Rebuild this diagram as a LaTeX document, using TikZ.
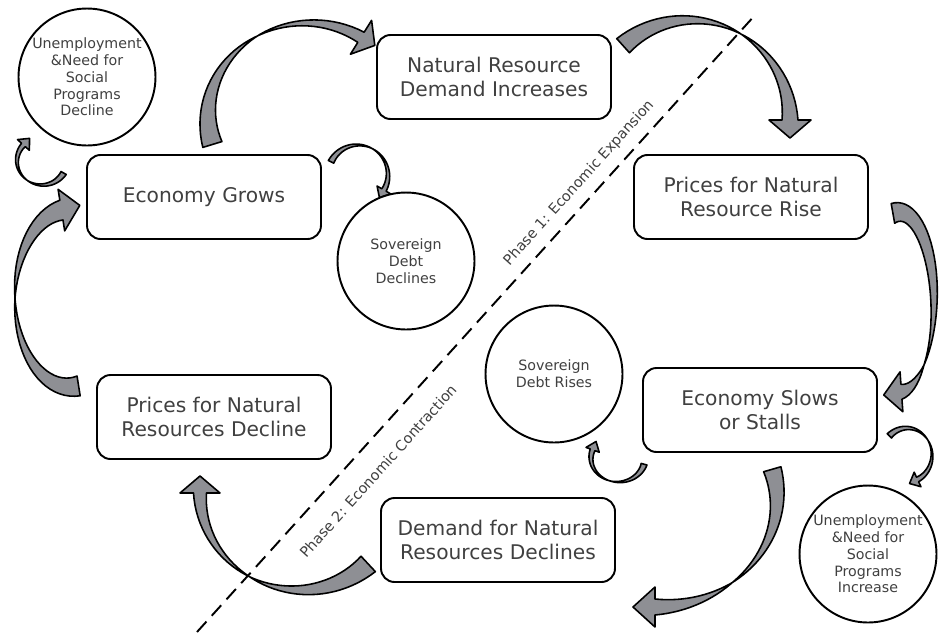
\documentclass[tikz,border=0pt]{standalone}
\usepackage{fontspec}
\setmainfont{DejaVu Sans}

\definecolor{arrowgray}{RGB}{142,143,148}
\definecolor{textgray}{RGB}{64,64,64}

\tikzset{
	box/.style={draw, line width=1.1pt, rounded corners=0.27cm, fill=white,
		minimum width=4.68cm, minimum height=1.68cm, align=center,
		text=textgray, font=\fontsize{11.5}{13.8}\selectfont},
	bubble/.style={draw, circle, line width=1.1pt, fill=white, minimum size=2.74cm,
		inner sep=0pt, align=center, text=textgray, font=\fontsize{8.1}{9.5}\selectfont},
	arrowband/.style={fill=arrowgray, draw=black, line width=0.9pt, line join=round},
	phase/.style={rotate=48, text=textgray, font=\fontsize{8.2}{10}\selectfont}
}

\begin{document}
\begin{tikzpicture}[x=0.02cm, y=-0.02cm]
	\useasboundingbox (0,0) rectangle (940,633);

	% twisted block arrows: centre, radii, tail/head angle, tail/head width, twist, head size
	\foreach \cx/\cy/\rx/\ry/\ta/\tb/\wa/\wb/\tw/\hw/\hl in {
		308/117/100/94/163/302/20/12/0.55/20/16,
		690/120/100/100/-132/0/19/16/0.55/21/18,
		899/302/35/90/-100/86/20/15/0.78/20/18,
		655/499/122/108/-16/90/18/16/0.63/20/22,
		300/493/100/97/47/180/21/13/0.55/20/17,
		70/298/55/89/81/261/20/20/0.55/21/19,
		42/161/25/24/30/222/6/5/0.5/8/9,
		358/175/30/30/-154/30/6/5/0.5/8/9,
		618/458/27/24/15/200/6/5/0.5/7/9,
		907/455/25/27/-135/65/6/5/0.5/8/9}
	{
		\pgfmathsetmacro\hx{\cx+\rx*cos(\tb)}
		\pgfmathsetmacro\hy{\cy+\ry*sin(\tb)}
		\pgfmathsetmacro\dx{-\rx*sin(\tb)}
		\pgfmathsetmacro\dy{\ry*cos(\tb)}
		\pgfmathsetmacro\dl{veclen(\dx,\dy)}
		\filldraw[arrowband, declare function={
				bw(\q)=(((\q-(\ta))/(\tb-(\ta)))<\tw) ? (\wa*(1-(\q-(\ta))/(\tw*(\tb-(\ta))))) : (-\wb*((\q-(\ta))/(\tb-(\ta))-\tw)/(1-\tw));}]
			plot[domain=\ta:\tb, samples=40, variable=\ang] ({\cx+(\rx+0.5*bw(\ang))*cos(\ang)}, {\cy+(\ry+0.5*bw(\ang))*sin(\ang)})
			-- ({\cx+(\rx-\hw)*cos(\tb)}, {\cy+(\ry-\hw)*sin(\tb)})
			-- ({\hx+\hl*\dx/\dl}, {\hy+\hl*\dy/\dl})
			-- ({\cx+(\rx+\hw)*cos(\tb)}, {\cy+(\ry+\hw)*sin(\tb)})
			-- plot[domain=\tb:\ta, samples=40, variable=\ang] ({\cx+(\rx-0.5*bw(\ang))*cos(\ang)}, {\cy+(\ry-0.5*bw(\ang))*sin(\ang)})
			-- cycle;
	}

	% phase divider
	\coordinate (divtop) at (756,14);
	\coordinate (divbot) at (197,632);
	\draw[line width=1.1pt, dash pattern=on 8pt off 4.5pt] (divbot) -- (divtop);
	\node[phase] (phaseone) at (579,183) {Phase 1: Economic Expansion};
	\node[phase] (phasetwo) at (378,471) {Phase 2: Economic Contraction};

	% cycle
	\node[box] (grows) at (204,197) {Economy Grows};
	\node[box] (demandup) at (494,77) {Natural Resource\\Demand Increases};
	\node[box] (pricesup) at (751,197) {Prices for Natural\\Resource Rise};
	\node[box] (slows) at (760,410) {Economy Slows\\or Stalls};
	\node[box] (demanddown) at (498,540) {Demand for Natural\\Resources Declines};
	\node[box] (pricesdown) at (214,417) {Prices for Natural\\Resources Decline};

	% side effects
	\node[bubble] (unempdown) at (87,77) {Unemployment\\\&Need for\\Social\\Programs\\Decline};
	\node[bubble] (debtdown) at (406,261) {Sovereign\\Debt\\Declines};
	\node[bubble] (debtup) at (554,374) {Sovereign\\Debt Rises};
	\node[bubble] (unempup) at (868,554) {Unemployment\\\&Need for\\Social\\Programs\\Increase};
\end{tikzpicture}
\end{document}
